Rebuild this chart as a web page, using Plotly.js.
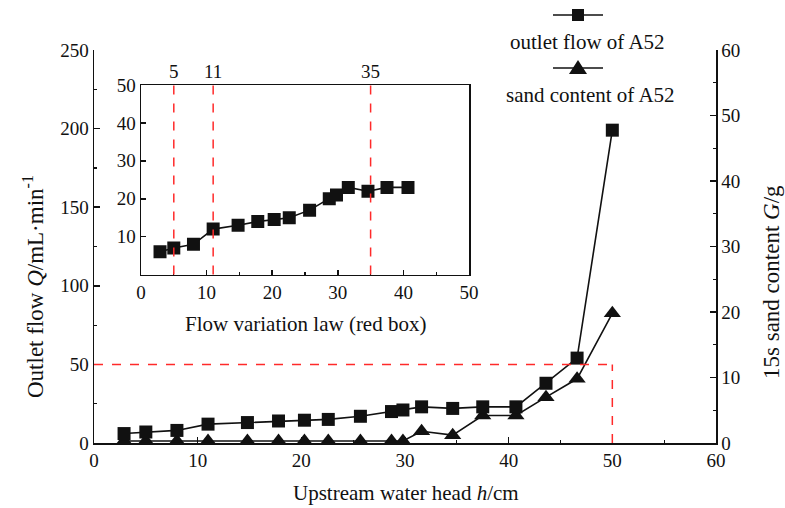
<!DOCTYPE html>
<html>
<head>
<meta charset="utf-8">
<script src="https://cdn.plot.ly/plotly-3.0.1.min.js"></script>
<style>html,body{margin:0;padding:0;background:#fff;}#chart{width:785px;height:508px;}</style>
</head>
<body>
<div id="chart"></div>
<script>
// ---- data ----
var headCm = [2.9, 5, 8, 11, 14.8, 17.8, 20.3, 22.6, 25.7, 28.7, 29.8, 31.6, 34.6, 37.5, 40.7, 43.6, 46.6, 50];
var outletFlow = [6, 7, 8, 12, 13, 14, 14.5, 15, 17, 20, 21, 23, 22, 23, 23, 38, 54, 199];
var sandContent = [0.3, 0.3, 0.3, 0.3, 0.3, 0.3, 0.3, 0.3, 0.3, 0.3, 0.3, 1.8, 1.2, 4.2, 4.2, 7.0, 9.8, 19.8];
var insetCount = 15;
var insetHead = headCm.slice(0, insetCount);
var insetFlow = outletFlow.slice(0, insetCount);
var markLines = [5, 11, 35];
var markLabels = ['5', '11', '35'];
var legendNames = ['outlet flow of A52', 'sand content of A52'];

// ---- layout helpers ----
var W = 785, H = 508, L = 94, R = 69, T = 50, B = 65;
var PW = W - L - R, PH = H - T - B;
function px(x) { return (x - L) / PW; }
function py(y) { return (H - B - y) / PH; }

var FONT = '"Liberation Serif", "Times New Roman", serif';
var INK = '#111';
var RED = '#ff2a2a';

var traces = [
  { x: headCm, y: sandContent, xaxis: 'x', yaxis: 'y', type: 'scatter', mode: 'lines+markers',
    name: legendNames[1], cliponaxis: true,
    line: { color: INK, width: 1.6 }, marker: { symbol: 'triangle-up', size: 15, color: INK } },
  { x: headCm, y: outletFlow, xaxis: 'x', yaxis: 'y3', type: 'scatter', mode: 'lines+markers',
    name: legendNames[0],
    line: { color: INK, width: 1.6 }, marker: { symbol: 'square', size: 13, color: INK } },
  { x: insetHead, y: insetFlow, xaxis: 'x2', yaxis: 'y2', type: 'scatter', mode: 'lines+markers',
    name: legendNames[0], showlegend: false,
    line: { color: INK, width: 1.6 }, marker: { symbol: 'square', size: 13, color: INK } }
];

var axisCommon = {
  showline: true, linecolor: INK, linewidth: 1.5, showgrid: false, zeroline: false,
  ticks: 'inside', ticklen: 6, tickwidth: 1.5, tickcolor: INK,
  tickfont: { family: FONT, size: 19, color: INK }
};

function ax(extra) { return Object.assign({}, axisCommon, extra); }

var shapes = [];
// main red dashed box
shapes.push({ type: 'line', xref: 'x', yref: 'y3', x0: 0, x1: 50, y0: 50, y1: 50,
  line: { color: RED, width: 1.5, dash: 'dash' } });
shapes.push({ type: 'line', xref: 'x', yref: 'y3', x0: 50, x1: 50, y0: 0, y1: 50,
  line: { color: RED, width: 1.5, dash: 'dash' } });
// inset red dashed lines
markLines.forEach(function (v) {
  shapes.push({ type: 'line', xref: 'x2', yref: 'y2 domain', x0: v, x1: v, y0: 0, y1: 1,
    line: { color: RED, width: 1.5, dash: 'dash' } });
});
// legend symbols (drawn above text)
function legLine(cy) {
  shapes.push({ type: 'line', xref: 'paper', yref: 'paper', x0: px(553), x1: px(603), y0: py(cy), y1: py(cy),
    line: { color: INK, width: 1.6 } });
}
legLine(15);
shapes.push({ type: 'rect', xref: 'paper', yref: 'paper', x0: px(572), x1: px(584), y0: py(21), y1: py(9),
  fillcolor: INK, line: { width: 0 } });
legLine(68);
shapes.push({ type: 'path', xref: 'paper', yref: 'paper',
  path: 'M' + px(569) + ',' + py(74) + ' L' + px(587) + ',' + py(74) + ' L' + px(578) + ',' + py(60) + ' Z',
  fillcolor: INK, line: { width: 0 } });

var annotations = [
  { xref: 'paper', yref: 'paper', x: px(406), y: py(493), xanchor: 'center', yanchor: 'middle', showarrow: false,
    text: 'Upstream water head <i>h</i>/cm', font: { family: FONT, size: 21, color: INK } },
  { xref: 'paper', yref: 'paper', x: px(33), y: py(287), xanchor: 'center', yanchor: 'middle', showarrow: false,
    textangle: -90, text: 'Outlet flow <i>Q</i>/mL·min<sup>-1</sup>', font: { family: FONT, size: 23, color: INK } },
  { xref: 'paper', yref: 'paper', x: px(771), y: py(282), xanchor: 'center', yanchor: 'middle', showarrow: false,
    textangle: -90, text: '15s sand content <i>G</i>/g', font: { family: FONT, size: 23, color: INK } },
  { xref: 'paper', yref: 'paper', x: px(305), y: py(324), xanchor: 'center', yanchor: 'middle', showarrow: false,
    text: 'Flow variation law (red box)', font: { family: FONT, size: 21, color: INK } },
  { xref: 'paper', yref: 'paper', x: px(587), y: py(42), xanchor: 'center', yanchor: 'middle', showarrow: false,
    text: legendNames[0], font: { family: FONT, size: 21, color: INK } },
  { xref: 'paper', yref: 'paper', x: px(590), y: py(95), xanchor: 'center', yanchor: 'middle', showarrow: false,
    text: legendNames[1], font: { family: FONT, size: 21, color: INK } }
];
markLines.forEach(function (v, i) {
  annotations.push({ xref: 'x2', yref: 'paper', x: v, y: py(71), xanchor: 'center', yanchor: 'middle',
    showarrow: false, text: markLabels[i], font: { family: FONT, size: 19, color: INK } });
});

var layout = {
  width: W, height: H,
  margin: { l: L, r: R, t: T, b: B, pad: 0 },
  paper_bgcolor: '#fff', plot_bgcolor: 'rgba(0,0,0,0)',
  showlegend: false,
  font: { family: FONT, color: INK },
  xaxis: ax({ domain: [0, 1], range: [0, 60], dtick: 10, tick0: 0, anchor: 'y',
    minor: { ticks: 'inside', dtick: 5, ticklen: 3, tickwidth: 1.2, tickcolor: INK } }),
  yaxis: ax({ domain: [0, 1], range: [0, 60], dtick: 10, tick0: 0, side: 'right', anchor: 'x',
    minor: { ticks: 'inside', dtick: 5, ticklen: 3, tickwidth: 1.2, tickcolor: INK } }),
  yaxis3: ax({ domain: [0, 1], range: [0, 250], dtick: 50, tick0: 0, side: 'left', overlaying: 'y', anchor: 'x',
    minor: { ticks: 'inside', dtick: 25, ticklen: 3, tickwidth: 1.2, tickcolor: INK } }),
  xaxis2: ax({ domain: [px(141), px(469)], range: [0, 50], dtick: 10, tick0: 0, anchor: 'y2', mirror: true,
    ticklen: 5, tickfont: { family: FONT, size: 19, color: INK },
    minor: { ticks: 'inside', dtick: 5, ticklen: 3, tickwidth: 1.2, tickcolor: INK } }),
  yaxis2: ax({ domain: [py(274.6), py(85)], range: [0, 50], tickvals: [10, 20, 30, 40, 50], anchor: 'x2', mirror: true,
    ticklen: 5, tickfont: { family: FONT, size: 19, color: INK } }),
  shapes: shapes,
  annotations: annotations
};

Plotly.newPlot('chart', traces, layout, { displayModeBar: false, staticPlot: true });
</script>
</body>
</html>
